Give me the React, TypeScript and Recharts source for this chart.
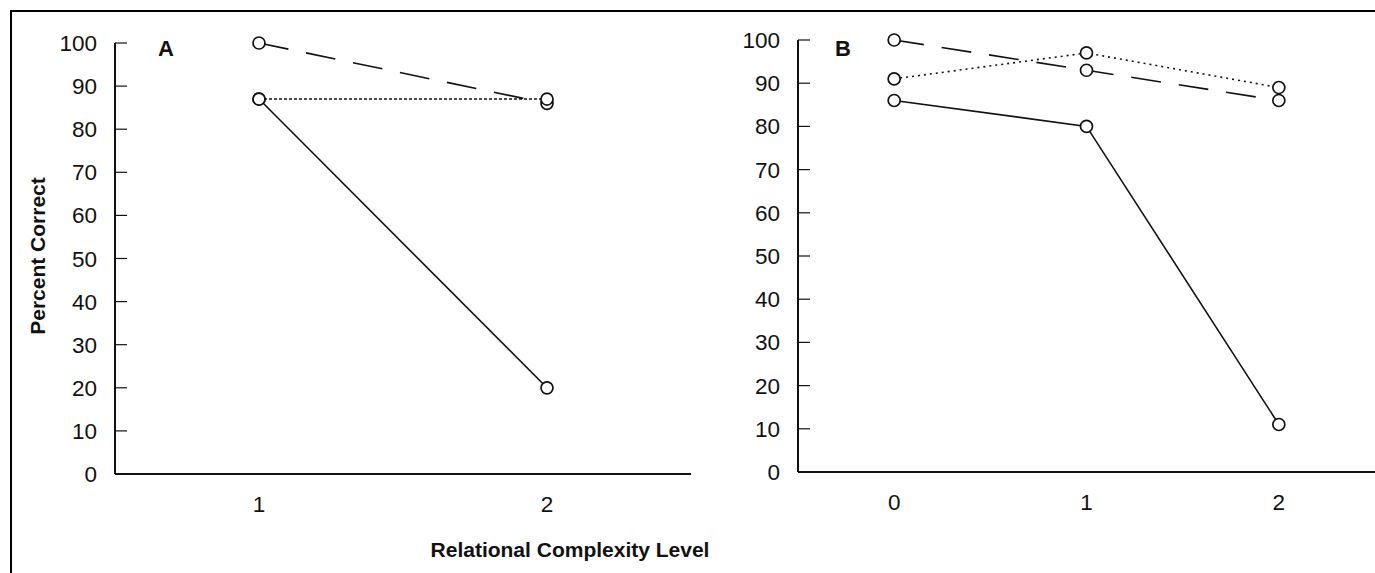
import React from 'react';
import { LineChart, Line, XAxis, YAxis } from 'recharts';

// ---- data ----
const levelsA = [1, 2];
const dashedA = [100, 86];
const dottedA = [87, 87];
const solidA = [87, 20];

const levelsB = [0, 1, 2];
const dashedB = [100, 93, 86];
const dottedB = [91, 97, 89];
const solidB = [86, 80, 11];

const yTicks = [0, 10, 20, 30, 40, 50, 60, 70, 80, 90, 100];
const xTicksA = [1, 2];
const xTicksB = [0, 1, 2];
const panelLabels = ['A', 'B'];
const yTitle = 'Percent Correct';
const xTitle = 'Relational Complexity Level';

const dataA = levelsA.map((lv, i) => ({ level: lv, dashed: dashedA[i], dotted: dottedA[i], solid: solidA[i] }));
const dataB = levelsB.map((lv, i) => ({ level: lv, dashed: dashedB[i], dotted: dottedB[i], solid: solidB[i] }));

const FONT = "'Liberation Sans', Arial, Helvetica, sans-serif";
const INK = '#111';
const TICK_MARGIN = 18;
const TICK_FS = 22.5;

const YTick = (props: any) => {
  const { x, y, payload } = props;
  const axisX = x + TICK_MARGIN;
  return (
    <g>
      <line x1={axisX} x2={axisX + 12} y1={y} y2={y} stroke={INK} strokeWidth={1.2} />
      <text x={x} y={y} dy={8} textAnchor="end" fontSize={TICK_FS} fill={INK} fontFamily={FONT}>
        {payload.value}
      </text>
    </g>
  );
};

const XTick = (props: any) => {
  const { x, y, payload } = props;
  return (
    <text x={x} y={y} dy={20} textAnchor="middle" fontSize={TICK_FS} fill={INK} fontFamily={FONT}>
      {payload.value}
    </text>
  );
};

const dot = { r: 6, fill: '#fff', stroke: INK, strokeWidth: 1.7, strokeDasharray: 'none' };

function Panel(props: {
  data: any[];
  domain: [number, number];
  xticks: number[];
  width: number;
  margin: any;
  dotted: string;
}) {
  const { data, domain, xticks, width, margin, dotted } = props;
  return (
    <LineChart width={width} height={573} data={data} margin={margin}>
      <XAxis
        type="number"
        dataKey="level"
        domain={domain}
        ticks={xticks}
        allowDataOverflow
        tickLine={false}
        tickSize={0}
        tickMargin={TICK_MARGIN}
        height={40}
        axisLine={{ stroke: INK, strokeWidth: 2 }}
        tick={<XTick />}
      />
      <YAxis
        type="number"
        domain={[0, 100]}
        ticks={yTicks}
        tickLine={false}
        tickSize={0}
        tickMargin={TICK_MARGIN}
        width={60}
        axisLine={{ stroke: INK, strokeWidth: 2 }}
        tick={<YTick />}
      />
      <Line
        dataKey="solid"
        stroke={INK}
        strokeWidth={1.6}
        dot={dot}
        isAnimationActive={false}
      />
      <Line
        dataKey="dashed"
        stroke={INK}
        strokeWidth={1.6}
        strokeDasharray="30 18"
        dot={dot}
        isAnimationActive={false}
      />
      <Line
        dataKey="dotted"
        stroke={INK}
        strokeWidth={1.6}
        strokeDasharray={dotted}
        dot={dot}
        isAnimationActive={false}
      />
    </LineChart>
  );
}

export default function App() {
  return (
    <div style={{ position: 'absolute', left: 0, top: 0, width: 1375, height: 573, background: '#fff', overflow: 'hidden' }}>
      <div
        style={{
          position: 'absolute',
          left: 10,
          top: 10,
          width: 1365,
          height: 563,
          borderLeft: '2px solid #000',
          borderTop: '2px solid #000',
          boxSizing: 'border-box',
        }}
      />
      <div style={{ position: 'absolute', left: 0, top: 0 }}>
        <Panel
          data={dataA}
          domain={[0.5, 2.5]}
          xticks={xTicksA}
          width={700}
          margin={{ top: 43, right: 9, bottom: 59, left: 55 }}
          dotted="3 2"
        />
      </div>
      <div style={{ position: 'absolute', left: 700, top: 0 }}>
        <Panel
          data={dataB}
          domain={[-0.5, 2.5]}
          xticks={xTicksB}
          width={675}
          margin={{ top: 40, right: 0, bottom: 61, left: 38 }}
          dotted="2 4"
        />
      </div>
      <svg
        width={1375}
        height={573}
        style={{ position: 'absolute', left: 0, top: 0, pointerEvents: 'none' }}
      >
        <text x={158} y={56} fontSize={22} fontWeight="bold" fill={INK} fontFamily={FONT}>
          {panelLabels[0]}
        </text>
        <text x={835} y={56} fontSize={22} fontWeight="bold" fill={INK} fontFamily={FONT}>
          {panelLabels[1]}
        </text>
        <text
          x={45}
          y={256}
          transform="rotate(-90 45 256)"
          textAnchor="middle"
          fontSize={21}
          fontWeight="bold"
          fill={INK}
          fontFamily={FONT}
        >
          {yTitle}
        </text>
        <text x={570} y={557} textAnchor="middle" fontSize={21} fontWeight="bold" fill={INK} fontFamily={FONT}>
          {xTitle}
        </text>
      </svg>
    </div>
  );
}
